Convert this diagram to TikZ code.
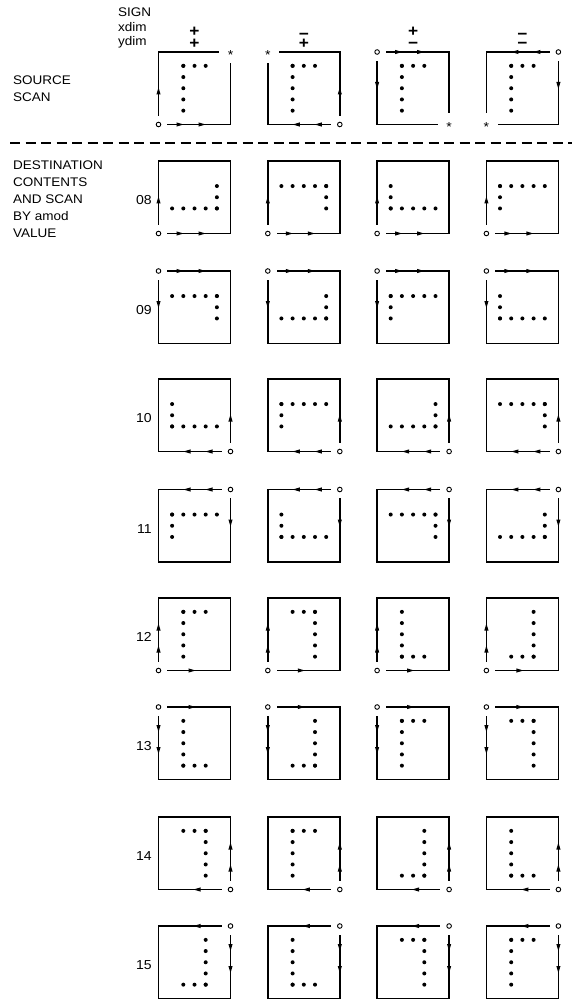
\documentclass[tikz,border=0pt]{standalone}
\usepackage{fontspec}
\setmainfont{Liberation Sans}[FakeStretch=1.08]
\usetikzlibrary{decorations.markings}

% arrow head drawn along a scan edge
\newcommand{\scanhead}{\fill (0.5pt,0pt) -- (-6.5pt,2.1pt) -- (-6.5pt,-2.1pt) -- cycle;}
\newcommand{\lowminus}{\raisebox{-3.5pt}{−}}

% scan panel: left x, top y, x sense, y sense, x edge style, y edge style, gap at far corner
\newcommand{\scanpanel}[7]{%
  \pgfmathsetmacro{\pcx}{#1+36*(1-(#3))}%
  \pgfmathsetmacro{\pcy}{#2+36.25*(1-(#4))}%
  \draw[panel, #5] ({\pcx+(#3)*9.5},\pcy) -- ({\pcx+(#3)*72},\pcy)
    -- ({\pcx+(#3)*72},{\pcy+(#4)*(72.5-#7)});
  \draw[panel, #6] (\pcx,{\pcy+(#4)*9.5}) -- (\pcx,{\pcy+(#4)*72.5})
    -- ({\pcx+(#3)*(72-#7)},{\pcy+(#4)*72.5});
  \draw[startmark] (\pcx,\pcy) circle[radius=2.3];
}

% dot group: centre x, centre y, columns, rows, side of the row, side of the column
\newcommand{\dotgroup}[6]{%
  \foreach \i in {1,...,#3}
    \fill ({#1+(\i-(#3+1)/2)*11.2},{#2+(#5)*(#4-1)/2*11.2}) circle[radius=2];
  \foreach \j in {1,...,#4}
    \fill ({#1+(#6)*(#3-1)/2*11.2},{#2+(\j-(#4+1)/2)*11.2}) circle[radius=2];
}

% destination row: amod, top y, x sense, y sense, x edge style, y edge style, columns, rows, dot sides
\newcommand{\destrow}[9]{%
  \node[rowtag] (row#1) at (152,{#2+43.5}) {#1};
  \foreach \rs/\cs [count=\col from 0] in {#9} {
    \scanpanel{158.5+109.3*\col}{#2}{#3}{#4}{#5}{#6}{0}
    \dotgroup{194.5+109.3*\col}{#2+36.25}{#7}{#8}{\rs}{\cs}
  }
}

\begin{document}
\begin{tikzpicture}[
      x=1pt, y=-1pt,
      panel/.style={line width=1.6pt, line cap=rect},
      dbl/.style={postaction={decorate, decoration={markings,
          mark=at position 15pt with {\scanhead},
          mark=at position 37pt with {\scanhead}}}},
      sgl/.style={postaction={decorate, decoration={markings,
          mark=at position 27pt with {\scanhead}}}},
      startmark/.style={line width=0.9pt, fill=white},
      endmark/.style={font=\fontsize{13}{13}\selectfont, anchor=base, inner sep=0pt, yshift=-7.5pt},
      signmark/.style={font=\fontsize{16}{16}\bfseries\selectfont, anchor=base, inner sep=0pt},
      rowtag/.style={font=\fontsize{13}{13}\selectfont, anchor=base east, inner sep=0pt},
      sidetext/.style={font=\fontsize{12.5}{16.8}\selectfont, align=left, anchor=north west, inner sep=0pt},
      divider/.style={line width=1.3pt, dash pattern=on 10pt off 5.5pt}
    ]
    \useasboundingbox (0,0) rectangle (572,1008);

    % Header
    \node[sidetext, font=\fontsize{12.5}{14.3}\selectfont] (sign) at (118,8) {SIGN\\xdim\\ydim};
    \foreach \xs/\ys [count=\col from 0] in {+/+, \lowminus/+, +/−, \lowminus/−} {
      \node[signmark] (xsign\col) at (194.5+109.3*\col,36.5) {\xs};
      \node[signmark] (ysign\col) at (194.5+109.3*\col,49) {\ys};
    }
    \node[sidetext] (source) at (13,76) {SOURCE\\SCAN};

    % Source scan
    \foreach \sx/\sy [count=\col from 0] in {1/-1, -1/-1, 1/1, -1/1} {
      \scanpanel{158.5+109.3*\col}{52}{\sx}{\sy}{dbl}{sgl}{12}
      \node[endmark] (far\col) at ({\pcx+(\sx)*72},{\pcy+(\sy)*72.5}) {*};
      \dotgroup{194.5+109.3*\col}{88.25}{3}{5}{-1}{-1}
    }

    \coordinate (dashL) at (10,143);
    \coordinate (dashR) at (572,143);
    \draw[divider] (dashL) -- (dashR);

    % Destination contents
    \node[sidetext] (dest) at (13,161) {DESTINATION\\CONTENTS\\AND SCAN\\BY amod\\VALUE};

    \destrow{08}{161}{1}{-1}{dbl}{sgl}{5}{3}{1/1,-1/1,1/-1,-1/-1}
    \destrow{09}{271}{1}{1}{dbl}{sgl}{5}{3}{-1/1,1/1,-1/-1,1/-1}
    \destrow{10}{379}{-1}{-1}{dbl}{sgl}{5}{3}{1/-1,-1/-1,1/1,-1/1}
    \destrow{11}{489.5}{-1}{1}{dbl}{sgl}{5}{3}{-1/-1,1/-1,-1/1,1/1}
    \destrow{12}{598}{1}{-1}{sgl}{dbl}{3}{5}{-1/-1,-1/1,1/-1,1/1}
    \destrow{13}{707}{1}{1}{sgl}{dbl}{3}{5}{1/-1,1/1,-1/-1,-1/1}
    \destrow{14}{817}{-1}{-1}{sgl}{dbl}{3}{5}{-1/1,-1/-1,1/1,1/-1}
    \destrow{15}{926}{-1}{1}{sgl}{dbl}{3}{5}{1/1,1/-1,-1/1,-1/-1}

  \end{tikzpicture}
\end{document}
